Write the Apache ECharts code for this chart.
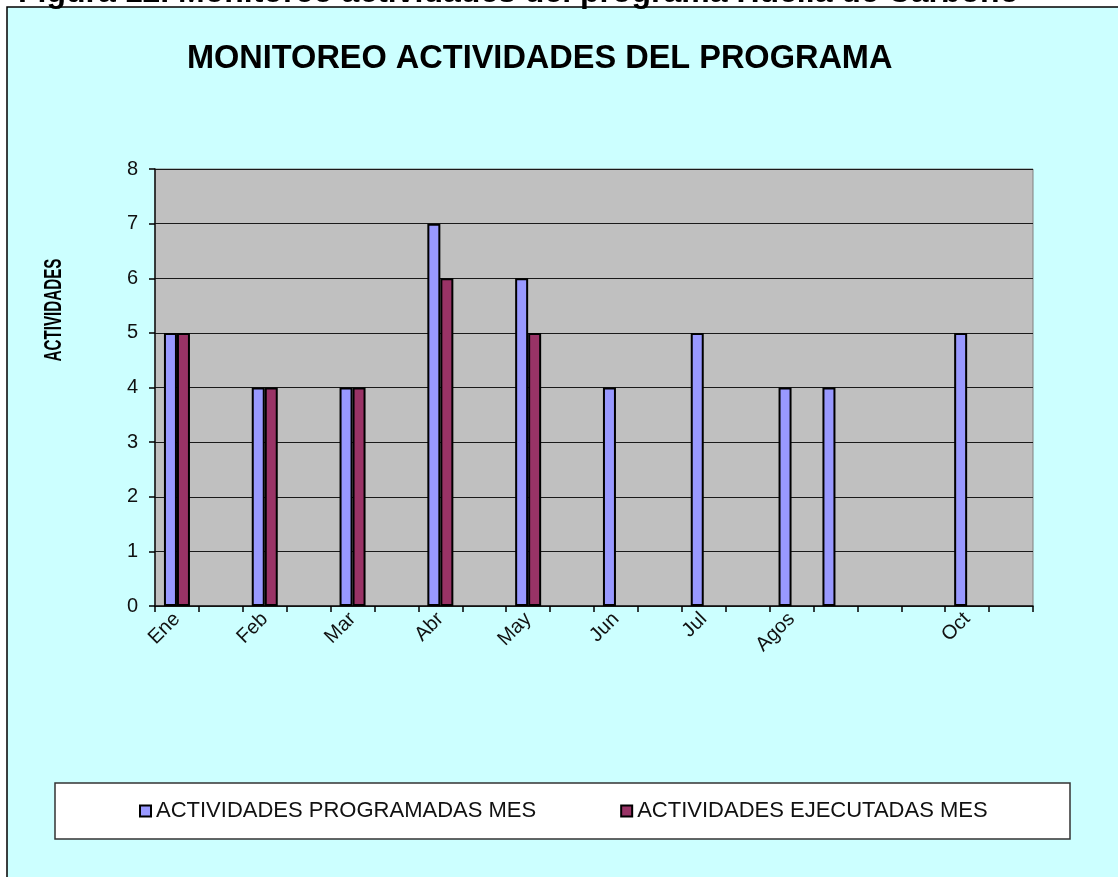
<!DOCTYPE html>
<html>
<head>
<meta charset="utf-8">
<script src="https://cdn.jsdelivr.net/npm/echarts@6/dist/echarts.min.js"></script>
<style>
	html,body{margin:0;padding:0;background:#fff;}
	#chart{width:1118px;height:877px;}
</style>
</head>
<body>
<div id="chart"></div>
<script>
	// categorias del eje (las posiciones vacias no llevan etiqueta)
	var meses = ['Ene','','Feb','','Mar','','Abr','','May','','Jun','','Jul','','Agos','','','','Oct',''];
	var programadas = [5,null,4,null,4,null,7,null,6,null,4,null,5,null,4,4,null,null,5,null];
	var ejecutadas = [5,null,4,null,4,null,6,null,5,null,null,null,null,null,null,null,null,null,null,null];
	var yTicks = [0,8,1];

	// claves unicas para el eje; el texto visible sale de "meses"
	var claves = meses.map(function(m, i){ return 'c' + i; });

	var fuente = 'Liberation Sans';
	var myChart = echarts.init(document.getElementById('chart'));

	var option = {
		backgroundColor:'#fff',
		animation:false,
		title:{
			text:'MONITOREO ACTIVIDADES DEL PROGRAMA',
			left:182,
			top:38,
			textStyle:{
				color:'#000',
				fontFamily:fuente,
				fontWeight:'bold',
				fontSize:32.5
			}
		},
		graphic:[
			{
				type:'rect',
				z:-10,
				shape:{x:7,y:7,width:1300,height:1000},
				style:{fill:'#CCFFFF',stroke:'#000',lineWidth:1.5}
			},
			{
				type:'text',
				z:10,
				x:18,
				y:9,
				style:{
					text:'Figura 12. Monitoreo actividades del programa Huella de Carbono',
					font:'bold 32px "Liberation Sans"',
					fill:'#000',
					verticalAlign:'bottom'
				}
			},
			{
				type:'rect',
				z:1,
				shape:{x:55,y:783,width:1015,height:56},
				style:{fill:'#fff',stroke:'#333',lineWidth:1.5}
			},
			{
				type:'text',
				z:10,
				x:55,
				y:310,
				rotation:Math.PI/2,
				scaleX:0.66,
				style:{
					text:'ACTIVIDADES',
					font:'bold 23px "Liberation Sans"',
					fill:'#000',
					align:'center',
					verticalAlign:'middle'
				}
			}
		],
		legend:{
			left:139,
			top:800,
			padding:0,
			itemGap:84,
			itemWidth:11,
			itemHeight:11,
			icon:'rect',
			textStyle:{
				color:'#111',
				fontFamily:fuente,
				fontSize:22
			},
			data:['ACTIVIDADES PROGRAMADAS MES','ACTIVIDADES EJECUTADAS MES']
		},
		grid:{
			left:155,
			right:85,
			top:169,
			bottom:271,
			show:true,
			backgroundColor:'#C0C0C0',
			borderColor:'#808080',
			borderWidth:1
		},
		xAxis:[
			{
				type:'category',
				data:claves,
				boundaryGap:true,
				axisLine:{lineStyle:{color:'#111',width:1.5}},
				axisTick:{show:false},
				axisLabel:{
					interval:0,
					rotate:45,
					margin:10,
					color:'#111',
					fontFamily:fuente,
					fontSize:20,
					formatter:function(v, i){ return meses[i]; }
				},
				splitLine:{show:false}
			},
			{
				// solo las marcas de division, una en cada borde de categoria
				type:'value',
				min:0,
				max:meses.length,
				interval:1,
				position:'bottom',
				axisLine:{show:false},
				axisTick:{show:true,length:6,lineStyle:{color:'#000',width:1.5}},
				axisLabel:{show:false},
				splitLine:{show:false}
			}
		],
		yAxis:{
			type:'value',
			min:yTicks[0],
			max:yTicks[1],
			interval:yTicks[2],
			axisLine:{show:true,lineStyle:{color:'#111',width:1.5}},
			axisTick:{show:true,length:6,lineStyle:{color:'#000',width:1.5}},
			axisLabel:{
				margin:17,
				color:'#111',
				fontFamily:fuente,
				fontSize:20
			},
			splitLine:{lineStyle:{color:'#1a1a1a',width:1.2}}
		},
		series:[
			{
				name:'ACTIVIDADES PROGRAMADAS MES',
				type:'bar',
				data:programadas,
				barWidth:13,
				barGap:'0%',
				itemStyle:{color:'#9999FF',borderColor:'#000',borderWidth:2}
			},
			{
				name:'ACTIVIDADES EJECUTADAS MES',
				type:'bar',
				data:ejecutadas,
				barWidth:13,
				itemStyle:{color:'#993366',borderColor:'#000',borderWidth:2}
			}
		]
	};

	myChart.setOption(option);
</script>
</body>
</html>
